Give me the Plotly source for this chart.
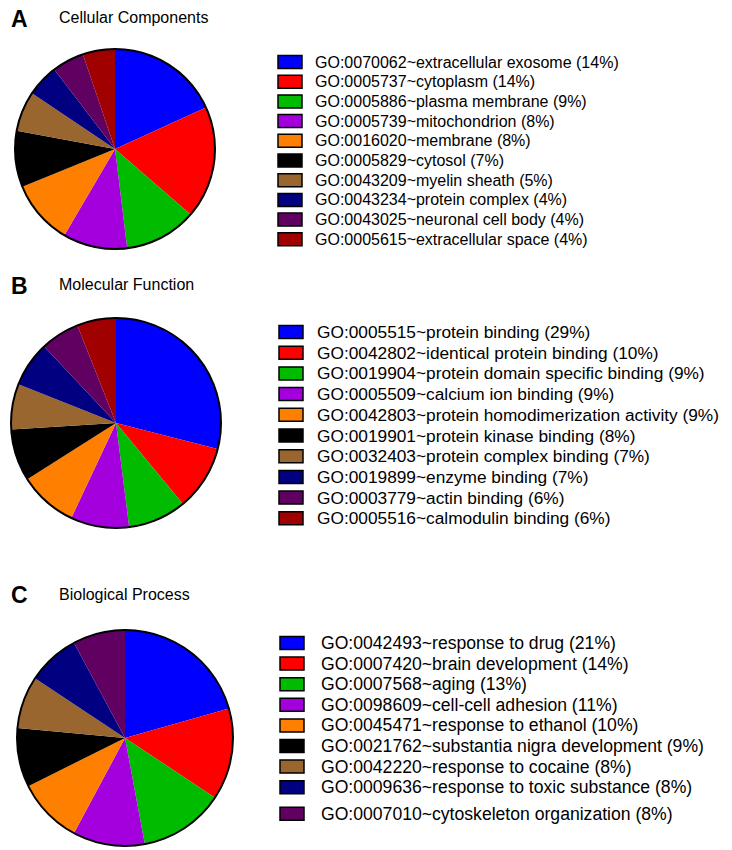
import plotly.graph_objects as go

W, H = 732, 850

colores = ["#0000FF", "#FF0000", "#00BB00", "#A300DD", "#FF8000",
           "#000000", "#9A6630", "#000080", "#600060", "#A00000"]

cc_labels = ["GO:0070062~extracellular exosome", "GO:0005737~cytoplasm",
             "GO:0005886~plasma membrane", "GO:0005739~mitochondrion",
             "GO:0016020~membrane", "GO:0005829~cytosol",
             "GO:0043209~myelin sheath", "GO:0043234~protein complex",
             "GO:0043025~neuronal cell body", "GO:0005615~extracellular space"]
cc_pct = [14, 14, 9, 8, 8, 7, 5, 4, 4, 4]

mf_labels = ["GO:0005515~protein binding", "GO:0042802~identical protein binding",
             "GO:0019904~protein domain specific binding", "GO:0005509~calcium ion binding",
             "GO:0042803~protein homodimerization activity", "GO:0019901~protein kinase binding",
             "GO:0032403~protein complex binding", "GO:0019899~enzyme binding",
             "GO:0003779~actin binding", "GO:0005516~calmodulin binding"]
mf_pct = [29, 10, 9, 9, 9, 8, 7, 7, 6, 6]

bp_labels = ["GO:0042493~response to drug", "GO:0007420~brain development",
             "GO:0007568~aging", "GO:0098609~cell-cell adhesion",
             "GO:0045471~response to ethanol", "GO:0021762~substantia nigra development",
             "GO:0042220~response to cocaine", "GO:0009636~response to toxic substance",
             "GO:0007010~cytoskeleton organization"]
bp_pct = [21, 14, 13, 11, 10, 9, 8, 8, 8]


def px(x):
    return x / W


def py(y):
    return 1 - y / H


# letra, titulo, etiquetas, valores, centro, radio, y titulo, y legenda, paso, fuente, x caja, x texto
paneles = [
    ("A", "Cellular Components", cc_labels, cc_pct, (115, 149), 100, 19, 62, 19.7, 16, 278, 313),
    ("B", "Molecular Function", mf_labels, mf_pct, (116, 423), 105, 286, 332, 20.7, 17.3, 279, 315),
    ("C", "Biological Process", bp_labels, bp_pct, (125, 738), 108, 595, 643, 20.6, 17.6, 280, 319),
]

fig = go.Figure()
shapes = []
annotations = []

for letra, titulo, labels, pct, (cx, cy), r, ty, ly, paso, fs, bx, tx in paneles:
    fig.add_trace(go.Pie(
        labels=labels,
        values=pct,
        sort=False,
        direction="clockwise",
        rotation=0,
        textinfo="none",
        hoverinfo="label+value",
        marker=dict(colors=colores[:len(pct)], line=dict(width=0)),
        domain=dict(x=[px(cx - r), px(cx + r)], y=[py(cy + r), py(cy - r)]),
        showlegend=False,
    ))
    shapes.append(dict(type="circle", xref="paper", yref="paper",
                       x0=px(cx - r), x1=px(cx + r), y0=py(cy + r), y1=py(cy - r),
                       line=dict(color="black", width=2), layer="above"))
    annotations.append(dict(text="<b>%s</b>" % letra, x=px(9), y=py(ty), xref="paper", yref="paper",
                            xanchor="left", yanchor="middle", showarrow=False,
                            font=dict(size=23, color="black")))
    annotations.append(dict(text=titulo, x=px(57), y=py(ty - 1), xref="paper", yref="paper",
                            xanchor="left", yanchor="middle", showarrow=False,
                            font=dict(size=16, color="black")))
    for i, (lab, v) in enumerate(zip(labels, pct)):
        yc = ly + i * paso
        # la ultima fila de C queda algo mas separada en el original
        if letra == "C" and i == len(labels) - 1:
            yc += 6
        shapes.append(dict(type="rect", xref="paper", yref="paper",
                           x0=px(bx), x1=px(bx + 24), y0=py(yc + 6.5), y1=py(yc - 6.5),
                           fillcolor=colores[i], line=dict(color="black", width=1.5)))
        annotations.append(dict(text="%s (%d%%)" % (lab, v), x=px(tx), y=py(yc),
                                xref="paper", yref="paper", xanchor="left", yanchor="middle",
                                showarrow=False, font=dict(size=fs, color="black")))

fig.update_layout(
    width=W, height=H,
    margin=dict(l=0, r=0, t=0, b=0),
    paper_bgcolor="white",
    font=dict(family="Liberation Sans, Arial, sans-serif", color="black"),
    shapes=shapes,
    annotations=annotations,
)

fig.write_html("out.html", config={"displayModeBar": False},
               post_script="document.body.style.margin='0';")
